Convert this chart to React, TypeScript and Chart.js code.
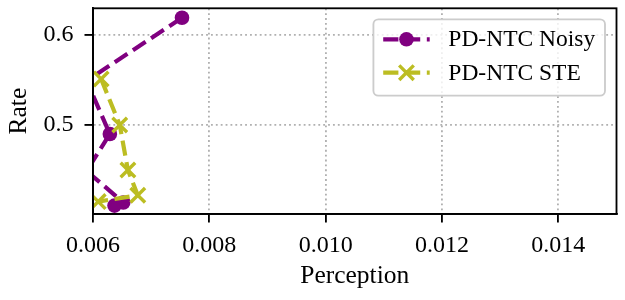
import React, { useEffect, useRef } from "react";
import { Chart, registerables } from "chart.js";

Chart.register(...registerables);

// ---- data ----
const seriesLabels = ["PD-NTC Noisy", "PD-NTC STE"];
const noisyPerception = [0.00753, 0.00589, 0.00629, 0.00589, 0.00652, 0.00637];
const noisyRate = [0.619, 0.549, 0.49, 0.449, 0.414, 0.4105];
const stePerception = [0.00614, 0.00646, 0.0066, 0.00677, 0.00609];
const steRate = [0.551, 0.5, 0.45, 0.422, 0.415];
const xTicks = [0.006, 0.008, 0.01, 0.012, 0.014];
const yTicks = [0.5, 0.6];
const xLimits = [0.006, 0.015];
const yLimits = [0.4012, 0.6295];
const xTitle = "Perception";
const yTitle = "Rate";

const FONT = "'Liberation Serif', 'Times New Roman', serif";
const TICK_FS = 24;
const TITLE_FS = 25.5;
const LEGEND_FS = 23.5;
const PURPLE = "#800080";
const OLIVE = "#bcbd22";
const LW = 4.2;
const DASH = [15.2, 6.6];

const framePlugin = {
  id: "frame",
  afterDatasetsDraw(chart: any) {
    const { ctx, chartArea: a } = chart;
    ctx.save();
    ctx.strokeStyle = "#000";
    ctx.lineWidth = 1.84;
    ctx.strokeRect(a.left, a.top, a.right - a.left, a.bottom - a.top);
    ctx.restore();
  },
};

const legendPlugin = {
  id: "mplLegend",
  afterDraw(chart: any) {
    const { ctx, chartArea: a } = chart;
    const ds = chart.data.datasets;
    ctx.save();
    ctx.font = `${LEGEND_FS}px ${FONT}`;
    let maxW = 0;
    ds.forEach((d: any) => {
      maxW = Math.max(maxW, ctx.measureText(d.label).width);
    });
    const pad = 9.8;
    const handle = 46.5;
    const textPad = 18.6;
    const w = pad + handle + textPad + maxW + pad;
    const right = a.right - 11.5;
    const left = right - w;
    const top = a.top + 11;
    const rowGap = 33.4;
    const h = 20 + rowGap + 23;
    const r = 5;
    ctx.beginPath();
    ctx.moveTo(left + r, top);
    ctx.lineTo(right - r, top);
    ctx.arcTo(right, top, right, top + r, r);
    ctx.lineTo(right, top + h - r);
    ctx.arcTo(right, top + h, right - r, top + h, r);
    ctx.lineTo(left + r, top + h);
    ctx.arcTo(left, top + h, left, top + h - r, r);
    ctx.lineTo(left, top + r);
    ctx.arcTo(left, top, left + r, top, r);
    ctx.closePath();
    ctx.fillStyle = "rgba(255,255,255,0.8)";
    ctx.fill();
    ctx.strokeStyle = "#cccccc";
    ctx.lineWidth = 1.84;
    ctx.stroke();

    ds.forEach((d: any, i: number) => {
      const cy = top + 20 + i * rowGap;
      const x0 = left + pad;
      const x1 = x0 + handle;
      const cx = (x0 + x1) / 2;
      ctx.save();
      ctx.strokeStyle = d.borderColor;
      ctx.lineWidth = d.borderWidth;
      ctx.setLineDash(d.borderDash);
      ctx.beginPath();
      ctx.moveTo(x0, cy);
      ctx.lineTo(x1, cy);
      ctx.stroke();
      ctx.restore();
      ctx.save();
      if (d.pointStyle === "circle") {
        ctx.fillStyle = d.pointBackgroundColor;
        ctx.beginPath();
        ctx.arc(cx, cy, d.pointRadius, 0, Math.PI * 2);
        ctx.fill();
      } else {
        ctx.strokeStyle = d.pointBorderColor;
        ctx.lineWidth = d.pointBorderWidth;
        const s = d.pointRadius * Math.SQRT1_2;
        ctx.beginPath();
        ctx.moveTo(cx - s, cy - s);
        ctx.lineTo(cx + s, cy + s);
        ctx.moveTo(cx - s, cy + s);
        ctx.lineTo(cx + s, cy - s);
        ctx.stroke();
      }
      ctx.restore();
      ctx.fillStyle = "#000";
      ctx.textAlign = "left";
      ctx.textBaseline = "middle";
      ctx.fillText(d.label, x1 + textPad, cy + 1);
    });
    ctx.restore();
  },
};

export default function App() {
  const ref = useRef<HTMLCanvasElement | null>(null);

  useEffect(() => {
    document.body.style.margin = "0";
    const canvas = ref.current;
    if (!canvas) return;
    const noisy = noisyPerception.map((x, i) => ({ x, y: noisyRate[i] }));
    const ste = stePerception.map((x, i) => ({ x, y: steRate[i] }));
    const chart = new Chart(canvas, {
      type: "scatter",
      data: {
        datasets: [
          {
            label: seriesLabels[0],
            data: noisy,
            showLine: true,
            borderColor: PURPLE,
            backgroundColor: PURPLE,
            borderWidth: LW,
            borderDash: DASH,
            borderCapStyle: "butt",
            pointStyle: "circle",
            pointRadius: 7.3,
            pointBorderWidth: 0,
            pointBackgroundColor: PURPLE,
            pointBorderColor: PURPLE,
            clip: 0,
            order: 1,
          } as any,
          {
            label: seriesLabels[1],
            data: ste,
            showLine: true,
            borderColor: OLIVE,
            backgroundColor: OLIVE,
            borderWidth: LW,
            borderDash: DASH,
            borderCapStyle: "butt",
            pointStyle: "crossRot",
            pointRadius: 10.3,
            pointBorderWidth: 3.4,
            pointBackgroundColor: OLIVE,
            pointBorderColor: OLIVE,
            clip: 0,
            order: 0,
          } as any,
        ],
      },
      options: {
        responsive: false,
        animation: false,
        events: [],
        layout: { autoPadding: false, padding: { left: 0, top: 8.3, right: 8.5, bottom: 0 } },
        plugins: { legend: { display: false }, tooltip: { enabled: false } },
        scales: {
          x: {
            type: "linear",
            min: xLimits[0],
            max: xLimits[1],
            afterBuildTicks: (s: any) => {
              s.ticks = xTicks.map((v) => ({ value: v }));
            },
            afterFit: (s: any) => {
              s.height = 86;
              s.paddingLeft = 0;
              s.paddingRight = 0;
            },
            ticks: {
              callback: (v: any) => Number(v).toFixed(3),
              color: "#000",
              font: { family: FONT, size: TICK_FS },
              padding: 9,
              maxRotation: 0,
              autoSkip: false,
            },
            grid: {
              color: "#b0b0b0",
              lineWidth: 1.84,
              tickColor: "#000",
              tickWidth: 1.84,
              tickLength: 8.5,
              tickBorderDash: [],
            },
            border: { display: true, color: "#000", width: 1.84, dash: [1.84, 3.04] },
            title: {
              display: true,
              text: xTitle,
              color: "#000",
              font: { family: FONT, size: TITLE_FS },
              padding: { top: 0, bottom: 8 },
            },
          },
          y: {
            type: "linear",
            min: yLimits[0],
            max: yLimits[1],
            afterBuildTicks: (s: any) => {
              s.ticks = yTicks.map((v) => ({ value: v }));
            },
            afterFit: (s: any) => {
              s.width = 93;
              s.paddingTop = 0;
              s.paddingBottom = 0;
            },
            ticks: {
              callback: (v: any) => Number(v).toFixed(1),
              color: "#000",
              font: { family: FONT, size: TICK_FS },
              padding: 11,
              autoSkip: false,
            },
            grid: {
              color: "#b0b0b0",
              lineWidth: 1.84,
              tickColor: "#000",
              tickWidth: 1.84,
              tickLength: 8.5,
              tickBorderDash: [],
            },
            border: { display: true, color: "#000", width: 1.84, dash: [1.84, 3.04] },
            title: {
              display: true,
              text: yTitle,
              color: "#000",
              font: { family: FONT, size: TITLE_FS },
              padding: { top: 3.5, bottom: 0 },
            },
          },
        },
      },
      plugins: [framePlugin, legendPlugin],
    });
    return () => chart.destroy();
  }, []);

  return (
    <div style={{ width: 625, height: 300 }}>
      <canvas ref={ref} width={625} height={300} style={{ display: "block" }} />
    </div>
  );
}
